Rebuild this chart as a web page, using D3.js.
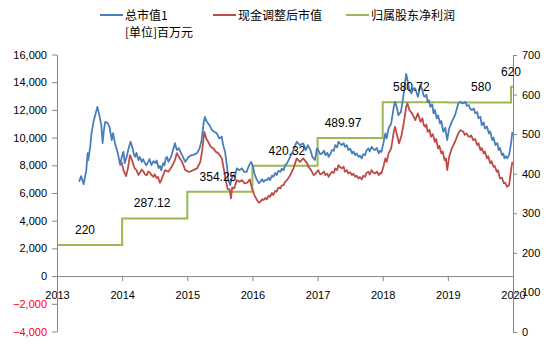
<!DOCTYPE html>
<html><head><meta charset="utf-8">
<script src="https://cdn.jsdelivr.net/npm/d3@7"></script>
<style>
html,body{margin:0;padding:0;background:#fff;}
svg{display:block;}
</style></head>
<body>
<script>
// ---- DATA ----
const blueDates = [
2013.34,2013.37,2013.41,2013.45,2013.47,2013.48,2013.51,2013.53,2013.56,2013.58,2013.62,2013.65,2013.68,2013.70,2013.72,2013.74,2013.78,2013.81,2013.84,2013.86,2013.89,2013.92,2013.94,2013.97,2013.99,2014.02,2014.04,2014.07,2014.10,2014.13,
2014.16,2014.18,2014.20,2014.22,2014.25,2014.27,2014.30,2014.32,2014.35,2014.37,2014.40,2014.42,2014.45,2014.48,2014.51,2014.53,2014.56,2014.58,2014.60,2014.63,2014.65,2014.67,2014.69,2014.71,2014.74,2014.76,
2014.81,2014.84,2014.87,2014.92,2014.97,2015.02,2015.07,2015.09,2015.15,2015.19,2015.22,2015.25,2015.27,2015.30,2015.34,2015.38,2015.41,2015.45,2015.49,2015.53,2015.55,2015.58,2015.61,2015.63,2015.66,2015.68,2015.71,2015.73,2015.76,2015.80,2015.84,2015.87,2015.91,2015.95,2015.98,2016.01,2016.03,
2016.07,2016.10,2016.12,2016.15,2016.17,2016.20,2016.22,2016.25,2016.27,2016.30,2016.32,2016.35,2016.37,2016.40,2016.43,2016.45,2016.48,2016.50,2016.53,
2016.58,2016.63,2016.68,2016.73,2016.78,2016.82,2016.85,2016.89,2016.92,2016.96,2016.99,
2017.01,2017.04,2017.07,2017.10,2017.12,2017.15,2017.17,2017.20,2017.22,2017.25,2017.27,2017.30,2017.32,2017.35,2017.37,2017.40,2017.42,2017.45,2017.47,2017.50,2017.53,2017.55,2017.58,2017.60,2017.63,2017.65,2017.68,2017.70,2017.73,2017.75,2017.78,2017.80,2017.83,2017.85,2017.88,2017.91,2017.94,2017.96,2017.98,
2018.01,2018.04,2018.06,2018.09,2018.13,2018.17,2018.19,2018.22,2018.24,2018.28,2018.30,2018.33,2018.36,2018.38,2018.41,2018.44,2018.47,2018.50,2018.54,2018.58,
2018.61,2018.63,2018.65,2018.67,2018.69,2018.71,2018.73,2018.76,2018.78,2018.80,2018.83,2018.85,2018.88,2018.90,2018.93,2018.96,2018.99,
2019.02,2019.06,2019.11,2019.16,2019.19,2019.23,
2019.27,2019.29,2019.32,2019.34,2019.37,2019.40,2019.42,2019.45,2019.47,2019.50,2019.52,2019.55,2019.57,2019.60,2019.63,2019.65,2019.68,2019.70,2019.73,2019.76,2019.78,2019.80,2019.83,2019.85,2019.87,2019.89,2019.91,
2019.94,2019.97,2019.99];
const blueValues = [
6810,7220,6640,7650,8880,8380,9340,10320,11140,11500,12220,11620,10900,9600,10540,11140,11050,10690,9820,10320,9600,9100,8740,8010,8520,8970,8160,8610,9240,9700,
9240,8800,8610,8900,8380,8600,8250,8450,8160,8000,8250,8450,8010,8300,8160,8350,7800,7950,7650,8160,8000,8520,8600,8250,8500,8740,
9600,9100,9240,8740,8250,8610,8740,8740,8880,9240,9820,11050,11500,11140,10900,10540,10420,10320,9940,10060,9460,8970,7890,6930,6570,7050,7290,7170,7780,7650,7780,7530,7530,8010,8250,7890,7410,
6930,6700,6810,7000,6810,6950,6930,7100,6930,7250,7170,7450,7290,7600,7530,7750,7650,8000,8140,
8610,9100,9700,9460,9580,9100,9460,9100,8610,8380,9220,
9100,8800,8860,9050,8740,8900,8610,8850,9100,9050,9460,9300,9700,9550,9460,9600,9340,9450,9100,9200,8860,9000,8740,8850,8610,8700,8500,8800,8740,9050,9220,9000,9340,9200,9100,9250,8860,9050,8970,
9580,10300,9940,10660,11020,12220,12580,12110,11620,11860,12470,13430,14600,14150,13430,13190,13550,13550,12950,13790,
13430,13000,12950,13100,12580,12700,12220,12400,11750,12000,11390,11600,11020,11200,10420,10700,9820,
10660,11140,11620,12470,12580,12470,
12580,12300,12350,12100,11990,12100,11750,11850,11390,11500,10900,11100,10660,10800,10300,10450,9820,10000,9460,9600,9100,9250,8740,8850,8500,8650,8500,
8740,9580,10420];

const redDates = [
2013.99,2014.02,2014.06,2014.09,2014.12,2014.15,2014.19,
2014.22,2014.25,2014.27,2014.30,2014.33,2014.35,2014.38,2014.40,2014.43,2014.45,2014.48,2014.50,2014.53,2014.55,2014.58,2014.60,2014.62,
2014.66,2014.71,2014.76,2014.81,2014.84,2014.87,2014.92,2014.97,2015.02,2015.04,2015.09,2015.15,2015.20,2015.23,2015.26,2015.29,2015.32,2015.36,2015.40,2015.44,2015.48,2015.53,2015.55,2015.59,2015.62,2015.65,2015.67,2015.69,2015.72,2015.76,2015.80,2015.84,2015.88,2015.92,2015.96,2015.99,2016.03,
2016.07,2016.10,2016.12,2016.15,2016.17,2016.20,2016.22,2016.25,2016.27,2016.30,2016.32,2016.35,2016.37,2016.40,2016.43,2016.45,2016.48,2016.50,2016.53,
2016.58,2016.63,2016.68,2016.73,2016.78,2016.84,2016.86,2016.90,2016.94,2016.97,
2017.01,2017.04,2017.07,2017.10,2017.12,2017.15,2017.17,2017.20,2017.22,2017.25,2017.27,2017.30,2017.32,2017.35,2017.37,2017.40,2017.42,2017.45,2017.47,2017.50,2017.53,2017.55,2017.58,2017.60,2017.63,2017.65,2017.68,2017.70,2017.73,2017.75,2017.78,2017.80,2017.83,2017.85,2017.88,2017.91,2017.94,2017.96,2017.98,
2018.01,2018.04,2018.06,2018.09,2018.13,2018.17,2018.19,2018.22,2018.25,2018.29,2018.33,2018.36,2018.38,2018.41,2018.45,2018.50,2018.54,2018.58,
2018.61,2018.63,2018.65,2018.67,2018.69,2018.72,2018.74,2018.77,2018.80,2018.82,2018.85,2018.87,2018.90,2018.92,2018.95,2018.97,2018.99,
2019.02,2019.06,2019.11,2019.16,2019.19,
2019.24,2019.26,2019.29,2019.31,2019.34,2019.36,2019.39,2019.42,2019.45,2019.47,2019.50,2019.52,2019.55,2019.57,2019.60,2019.62,2019.65,2019.67,2019.70,2019.72,2019.75,2019.77,2019.80,2019.83,2019.86,2019.88,2019.91,
2019.94,2019.97,2019.99];
const redValues = [
8250,7650,7220,7800,8740,8380,7800,
7650,7300,7440,7700,7530,7350,7290,7550,7440,7300,7170,7350,7080,7150,6740,6900,7170,
7650,7530,7890,8380,8880,8610,8250,7650,7530,7530,7650,7780,8250,9100,10420,9940,9700,9340,9220,8970,8860,8500,8010,6930,6260,6260,5610,6400,6330,6930,6810,6930,6690,6740,6980,6400,5850,
5490,5300,5360,5550,5490,5650,5540,5800,5730,6000,5850,6150,6090,6400,6330,6550,6570,6800,6930,
7290,7780,8500,8250,8500,8140,7890,7650,7290,7410,
7650,7350,7410,7550,7290,7400,7170,7400,7530,7450,7780,7650,8010,7850,7780,7900,7530,7650,7410,7500,7290,7400,7170,7250,7050,7150,6980,7250,7170,7450,7530,7350,7650,7500,7410,7550,7290,7450,7410,
7890,8500,8250,8860,9220,10420,10780,10180,9580,10180,11260,12220,12470,11990,11750,11260,11750,11140,
11390,10900,10780,10950,10420,10550,10060,10250,9700,9900,9220,9400,8860,9000,8380,8500,7650,
8610,9220,9700,10300,10540,
10420,10200,10300,10100,10060,10150,9820,9900,9460,9600,9100,9250,8860,9000,8500,8650,8140,8300,7890,7950,7530,7650,7050,7100,6690,6750,6450,
6570,7650,8250];

const profitDates  = [2013, 2014, 2015, 2016, 2017, 2018, 2019, 2019.97, 2020];
const profitValues = [220, 287.12, 354.25, 420.32, 489.97, 580.72, 580, 620, 620];
const profitLabelDates  = [2013.43, 2014.46, 2015.47, 2016.53, 2017.39, 2018.44, 2019.51, 2019.97];
const profitLabelValues = [220, 287.12, 354.25, 420.32, 489.97, 580.72, 580, 620];
const profitLabelText   = ["220","287.12","354.25","420.32","489.97","580.72","580","620"];

const xTicks = [2013,2014,2015,2016,2017,2018,2019,2020];
const leftTicks = [-4000,-2000,0,2000,4000,6000,8000,10000,12000,14000,16000];
const rightTicks = [0,100,200,300,400,500,600,700];
const seriesNames = ["总市值1","现金调整后市值","归属股东净利润"];
const unitNote = "[单位]百万元";

// ---- STYLE ----
const W = 554, H = 344;
const C_BLUE = "#4a7ebb", C_RED = "#be4b48", C_GREEN = "#98b954", C_AXIS = "#868686";
const FONT = "'Liberation Sans', Arial, sans-serif";
const CJK = "'Noto Sans CJK SC', sans-serif";

const svg = d3.select("body").append("svg").attr("width", W).attr("height", H);

const x = d3.scaleLinear().domain([2013, 2020]).range([57, 513]);
const yL = d3.scaleLinear().domain([-4000, 16000]).range([331.5, 54.5]);
const yR = d3.scaleLinear().domain([0, 700]).range([332, 55]);

// axes
const gx = svg.append("g").attr("transform", `translate(0,${yL(0)})`)
  .call(d3.axisBottom(x).tickValues(xTicks).tickFormat(d3.format("d")).tickSize(5).tickSizeOuter(0).tickPadding(10));
const gl = svg.append("g").attr("transform", `translate(57,0)`)
  .call(d3.axisLeft(yL).tickValues(leftTicks).tickFormat(d3.format(",")).tickSize(5).tickSizeOuter(0).tickPadding(5));
const gr = svg.append("g").attr("transform", `translate(513,0)`)
  .call(d3.axisRight(yR).tickValues(rightTicks).tickSize(4).tickSizeOuter(0).tickPadding(5));

[gx, gl, gr].forEach(g => {
  g.selectAll("path.domain").attr("stroke", C_AXIS).attr("stroke-width", 1);
  g.selectAll(".tick line").attr("stroke", C_AXIS);
  g.selectAll("text").attr("font-family", FONT).attr("font-size", 11).attr("fill", "#000");
});
gl.selectAll(".tick text").attr("fill", d => d < 0 ? "#ff0000" : "#000");

// lines
const blueData = blueDates.map((d, i) => [d, blueValues[i]]);
const redData = redDates.map((d, i) => [d, redValues[i]]);
const profitData = profitDates.map((d, i) => [d, profitValues[i]]);

const lineL = d3.line().x(d => x(d[0])).y(d => yL(d[1]));
const lineStep = d3.line().x(d => x(d[0])).y(d => yR(d[1])).curve(d3.curveStepAfter);

svg.append("path").datum(profitData).attr("d", lineStep)
  .attr("fill", "none").attr("stroke", C_GREEN).attr("stroke-width", 2);
svg.append("path").datum(redData).attr("d", lineL)
  .attr("fill", "none").attr("stroke", C_RED).attr("stroke-width", 1.8).attr("stroke-linejoin", "round");
svg.append("path").datum(blueData).attr("d", lineL)
  .attr("fill", "none").attr("stroke", C_BLUE).attr("stroke-width", 1.8).attr("stroke-linejoin", "round");

// data labels
svg.append("g").selectAll("text").data(profitLabelText).join("text")
  .attr("x", (d, i) => x(profitLabelDates[i]))
  .attr("y", (d, i) => yR(profitLabelValues[i]) - 11)
  .attr("text-anchor", "middle")
  .attr("font-family", FONT).attr("font-size", 12).attr("fill", "#000")
  .text(d => d);

// legend
const legendX = [100, 213, 346];
const legendColors = [C_BLUE, C_RED, C_GREEN];
const lg = svg.append("g");
seriesNames.forEach((n, i) => {
  lg.append("line").attr("x1", legendX[i]).attr("x2", legendX[i] + 23)
    .attr("y1", 15).attr("y2", 15).attr("stroke", legendColors[i]).attr("stroke-width", 2);
  lg.append("text").attr("x", legendX[i] + 25).attr("y", 19.5)
    .attr("font-family", CJK).attr("font-size", 12).attr("fill", "#000").text(n);
});
lg.append("text").attr("x", legendX[0] + 25).attr("y", 37)
  .attr("font-family", CJK).attr("font-size", 12).attr("fill", "#000").text(unitNote);
</script>
</body></html>
